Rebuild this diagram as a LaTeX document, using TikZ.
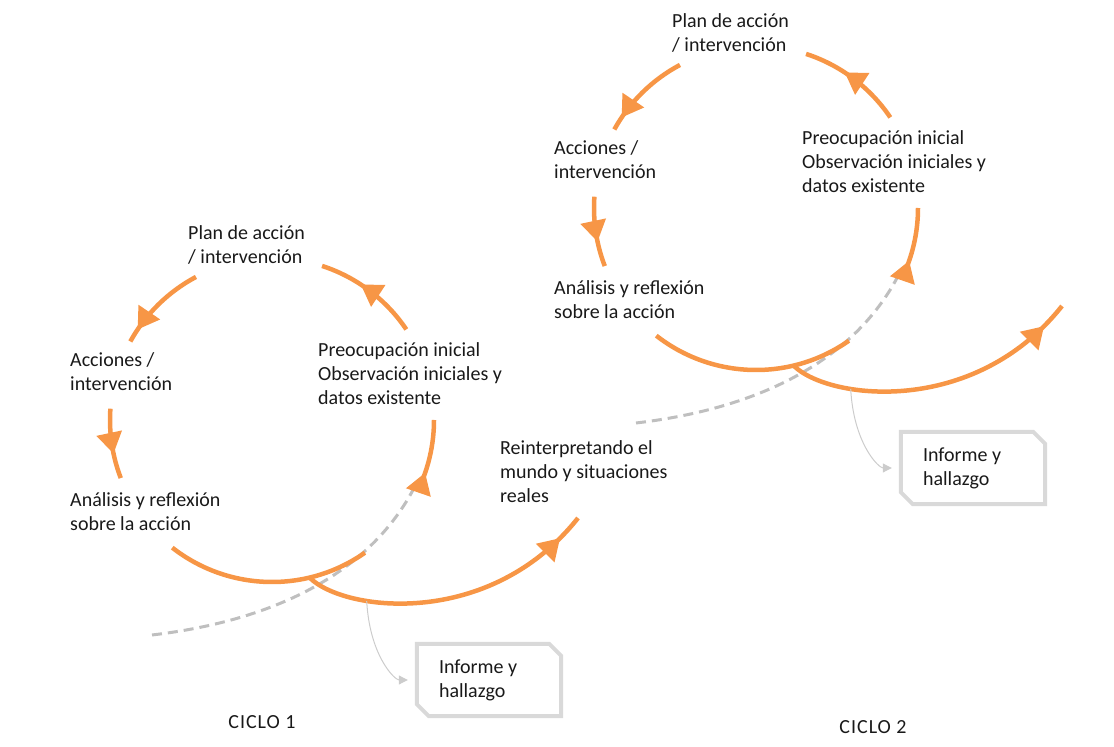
\documentclass[tikz,border=0pt]{standalone}
\usepackage{fontspec}
\setmainfont{Carlito}
\usetikzlibrary{arrows.meta, decorations.markings, positioning}
\definecolor{naranja}{HTML}{F79646}
\definecolor{gris}{HTML}{BFBFBF}
\definecolor{grisclaro}{HTML}{D9D9D9}
\tikzset{>=Stealth}

\begin{document}
\begin{tikzpicture}[x=1pt, y=1pt,
  cyc/.style={draw=naranja, line width=4.5pt},
  midtip/.style={postaction={decorate}, decoration={markings, mark=at position #1 with {\arrow{Triangle[length=21pt,width=25pt]}}}},
  lbl/.style={align=flush left, inner sep=0pt, text=black!90, font=\fontsize{20}{24}\selectfont},
  caja/.style={minimum width=144pt, minimum height=72pt, inner sep=0pt, text width=100pt, align=flush left}]
\useasboundingbox (0,0) rectangle (1114,747);

\foreach \k/\dx/\dy in {1/0/0, 2/484/212} {
\begin{scope}[shift={(\dx,\dy)}]
\coordinate (c\k) at (272,327);
\coordinate (d\k) at (152,112);
\coordinate (e\k) at (413,257);
\node[lbl, anchor=west] (plan\k) at (188,502) {Plan de acción\\/ intervención};
\node[lbl, anchor=west] (acc\k) at (70,375) {Acciones /\\intervención};
\node[lbl, anchor=west] (ana\k) at (70,235) {Análisis y reflexión\\sobre la acción};
\node[lbl, anchor=west] (pre\k) at (318,373) {Preocupación inicial\\Observación iniciales y\\datos existente};
\node[lbl, caja] (box\k) at (489,67) {Informe y\\hallazgo};

% ciclo
\draw[gris, line width=3pt, dash pattern=on 10pt off 6pt] (d\k) .. controls (280,127) and (370,177) .. (e\k);
\draw[cyc, midtip=0.6] ([shift={(34:162pt)}]c\k) arc[start angle=34, end angle=72, radius=162pt];
\draw[cyc, midtip=0.85] ([shift={(118:162pt)}]c\k) arc[start angle=118, end angle=151, radius=162pt];
\draw[cyc, midtip=0.64] ([shift={(176:162pt)}]c\k) arc[start angle=176, end angle=201, radius=162pt];
\draw[cyc] ([shift={(232:162pt)}]c\k) arc[start angle=232, end angle=305, radius=162pt];
\draw[cyc, midtip=0.27] ([shift={(334:162pt)}]c\k) arc[start angle=334, end angle=360, radius=162pt];
\draw[cyc, midtip=0.91] (310,169) .. controls (345,135) and (490,118) .. coordinate[pos=0.3] (t\k) (578,229);

% informe
\draw[gris!80, line width=1pt, -{Triangle[length=9pt,width=9pt]}, shorten >=9pt] (t\k) .. controls +(3,-55) and +(-22,0) .. (box\k.west);
\draw[grisclaro, line width=4pt] (box\k.north west) -- ([xshift=-12pt]box\k.north east) -- ([yshift=-12pt]box\k.north east) -- (box\k.south east) -- ([xshift=12pt]box\k.south west) -- ([yshift=12pt]box\k.south west) -- cycle;
\end{scope}
}

\node[lbl, anchor=west] (rein) at (500,275) {Reinterpretando el\\mundo y situaciones\\reales};
\node[lbl, font=\fontsize{20}{24}\selectfont\addfontfeature{LetterSpace=5}] (ciclo1) at (262,25) {CICLO 1};
\node[lbl, font=\fontsize{20}{24}\selectfont\addfontfeature{LetterSpace=5}] (ciclo2) at (873,20) {CICLO 2};

\end{tikzpicture}
\end{document}
